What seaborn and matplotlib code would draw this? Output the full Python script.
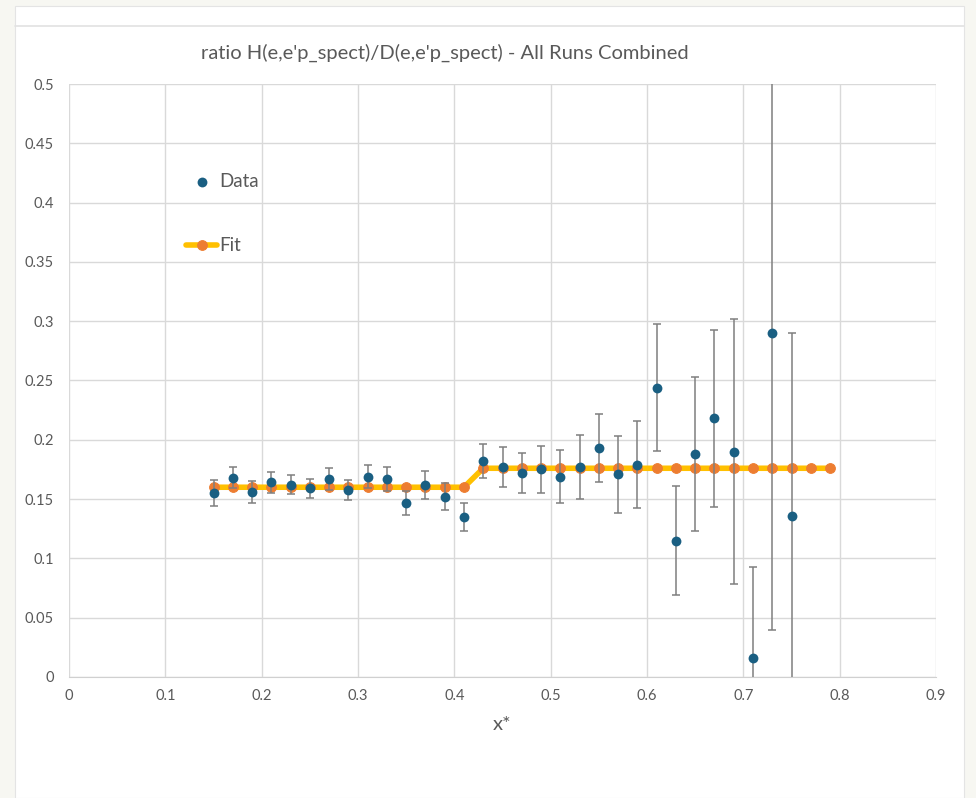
import numpy as np
import matplotlib
matplotlib.use("Agg")
import matplotlib.pyplot as plt
import seaborn as sns
from matplotlib.ticker import FuncFormatter, MultipleLocator
from matplotlib.patches import Rectangle
from matplotlib.lines import Line2D

# values
x_data = [0.15, 0.17, 0.19, 0.21, 0.23, 0.25, 0.27, 0.29, 0.31, 0.33, 0.35,
          0.37, 0.39, 0.41, 0.43, 0.45, 0.47, 0.49, 0.51, 0.53, 0.55, 0.57,
          0.59, 0.61, 0.63, 0.65, 0.67, 0.69, 0.71, 0.73, 0.75]
y_data = [0.155, 0.168, 0.156, 0.164, 0.162, 0.159, 0.167, 0.158, 0.169, 0.167, 0.147,
          0.162, 0.152, 0.135, 0.182, 0.177, 0.172, 0.175, 0.169, 0.177, 0.193, 0.171,
          0.179, 0.244, 0.115, 0.188, 0.218, 0.190, 0.016, 0.290, 0.136]
y_err = [0.011, 0.009, 0.009, 0.009, 0.008, 0.008, 0.0095, 0.0085, 0.0095, 0.010, 0.010,
         0.0115, 0.0115, 0.012, 0.0145, 0.017, 0.017, 0.020, 0.0225, 0.027, 0.029, 0.0325,
         0.0365, 0.0535, 0.046, 0.065, 0.0745, 0.112, 0.077, 0.250, 0.154]

x_fit = [0.15, 0.17, 0.19, 0.21, 0.23, 0.25, 0.27, 0.29, 0.31, 0.33, 0.35,
         0.37, 0.39, 0.41, 0.43, 0.45, 0.47, 0.49, 0.51, 0.53, 0.55, 0.57,
         0.59, 0.61, 0.63, 0.65, 0.67, 0.69, 0.71, 0.73, 0.75, 0.77, 0.79]
y_fit = [0.160, 0.160, 0.160, 0.160, 0.160, 0.160, 0.160, 0.160, 0.160, 0.160, 0.160,
         0.160, 0.160, 0.160, 0.176, 0.176, 0.176, 0.176, 0.176, 0.176, 0.176, 0.176,
         0.176, 0.176, 0.176, 0.176, 0.176, 0.176, 0.176, 0.176, 0.176, 0.176, 0.176]

title = "ratio H(e,e'p_spect)/D(e,e'p_spect) - All Runs Combined"

sns.set_style("white")
plt.rcParams['font.family'] = ['Lato', 'DejaVu Sans']

blue = "#1a5f82"
orange = "#ed7d31"
gold = "#ffc000"
grey_txt = "#595959"

fig = plt.figure(figsize=(9.76, 7.98), dpi=100)
fig.patch.set_facecolor("#f7f7f2")
# white chart panel behind everything
fig.patches.append(Rectangle((15 / 976, 0), 949 / 976, 792 / 798, transform=fig.transFigure,
                             facecolor="white", edgecolor="#e4e4e4", lw=0.8, zorder=-10))
fig.lines.append(Line2D([15 / 976, 964 / 976], [1 - 26 / 798, 1 - 26 / 798],
                        transform=fig.transFigure, color="#e2e2e2", lw=1.2, zorder=-5))

ax = fig.add_axes([69 / 976, 121 / 798, 867 / 976, 593 / 798])
ax.set_zorder(1)
ax.set_facecolor("white")

# fit line
sns.lineplot(x=x_fit, y=y_fit, ax=ax, color=gold, lw=4, marker="o", markersize=7,
             markerfacecolor=orange, markeredgecolor=orange, zorder=2, label="Fit")

# error bars then data points
ax.errorbar(x_data, y_data, yerr=y_err, fmt="none", ecolor="#7f7f7f", elinewidth=1.1,
            capsize=3, capthick=1.1, zorder=3)
sns.scatterplot(x=x_data, y=y_data, ax=ax, color=blue, s=50, edgecolor=blue, linewidth=0,
                zorder=4, label="Data")

ax.set_xlim(0, 0.9)
ax.set_ylim(0, 0.5)
ax.xaxis.set_major_locator(MultipleLocator(0.1))
ax.yaxis.set_major_locator(MultipleLocator(0.05))
fmt = FuncFormatter(lambda v, p: "{:g}".format(round(v, 3)))
ax.xaxis.set_major_formatter(fmt)
ax.yaxis.set_major_formatter(fmt)
ax.grid(True, color="#d9d9d9", lw=1)
ax.set_axisbelow(True)
for s in ["top", "right", "left"]:
    ax.spines[s].set_visible(False)
ax.spines["bottom"].set_color("#d0d0d0")
ax.tick_params(axis="both", length=0, labelsize=10.5, labelcolor=grey_txt)
ax.tick_params(axis="x", pad=9)
ax.tick_params(axis="y", pad=11)

ax.set_xlabel("x*", fontsize=14.5, color=grey_txt, labelpad=9)
ax.set_ylabel("")

fig.text(445 / 976, 1 - 53 / 798, title, ha="center", va="center", fontsize=14.5, color=grey_txt)

# legend, stacked like Excel
handles, labels = ax.get_legend_handles_labels()
order = [labels.index("Data"), labels.index("Fit")]
leg = ax.legend([handles[i] for i in order], [labels[i] for i in order],
                loc="upper left", bbox_to_anchor=(0.116, 0.879), frameon=False,
                fontsize=13.5, labelspacing=2.55, handlelength=1.65, handletextpad=0.1,
                labelcolor=grey_txt)

fig.savefig("out.png", dpi=100, facecolor=fig.get_facecolor())
